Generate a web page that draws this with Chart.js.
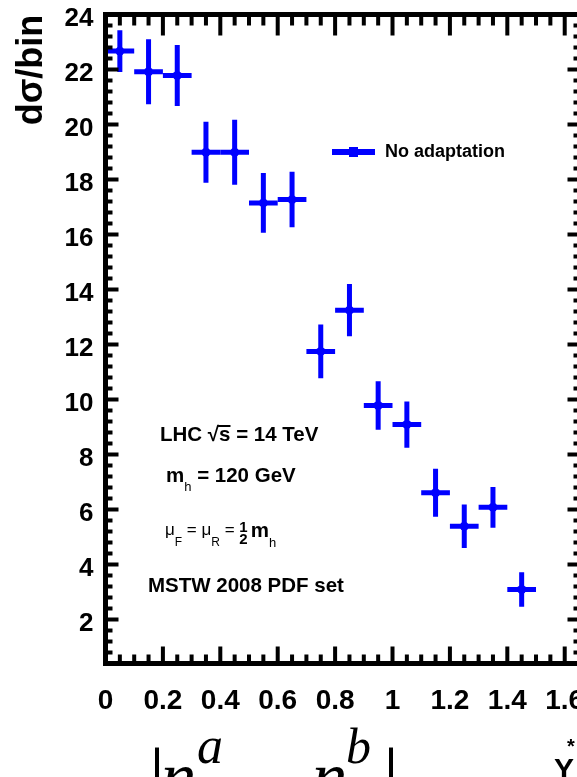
<!DOCTYPE html>
<html>
<head>
<meta charset="utf-8">
<title>d&sigma;/bin vs |&eta;a - &eta;b|</title>
<script src="https://cdn.jsdelivr.net/npm/chart.js@4.4.0/dist/chart.umd.min.js"></script>
<style>
  html, body { margin: 0; padding: 0; background: #fff; overflow: hidden; }
  #wrap { width: 600px; height: 777px; }
</style>
</head>
<body>
<div id="wrap"><canvas id="myChart" width="600" height="777"></canvas></div>
<script>
// bins in |eta^a - eta^b|, 0.1 wide
var binCenters = [0.05, 0.15, 0.25, 0.35, 0.45, 0.55, 0.65, 0.75, 0.85, 0.95, 1.05, 1.15, 1.25, 1.35, 1.45];
var binHalfWidth = 0.05;
// dsigma/bin and its error, "No adaptation" run
var noAdaptation    = [22.67, 21.92, 21.78, 18.99, 18.99, 17.15, 17.27, 11.75, 13.25, 9.78, 9.09, 6.61, 5.39, 6.08, 3.09];
var noAdaptationErr = [0.76, 1.18, 1.11, 1.11, 1.18, 1.09, 1.01, 0.98, 0.95, 0.88, 0.84, 0.87, 0.79, 0.74, 0.63];
var xTickLabels = [0, 0.2, 0.4, 0.6, 0.8, 1, 1.2, 1.4, 1.6];
var yTickLabels = [2, 4, 6, 8, 10, 12, 14, 16, 18, 20, 22, 24];

var blue = '#0000ff';
var sans = '"Liberation Sans", Arial, Helvetica, sans-serif';
var serif = '"Liberation Serif", "DejaVu Serif", serif';

// draws a list of text pieces one after another starting at x
function drawRuns(ctx, runs, x, y) {
  for (var i = 0; i < runs.length; i++) {
    var r = runs[i];
    if (r.frac) {
      ctx.font = r.font;
      var fw = Math.max(ctx.measureText(r.top).width, ctx.measureText(r.bottom).width);
      ctx.textAlign = 'center';
      ctx.fillText(r.top, x + fw / 2, y + r.dyTop);
      ctx.fillText(r.bottom, x + fw / 2, y + r.dyBottom);
      ctx.textAlign = 'left';
      x += fw + 3;
      continue;
    }
    ctx.font = r.font;
    ctx.fillText(r.text, x, y + (r.dy || 0));
    var w = ctx.measureText(r.text).width;
    if (r.over) {
      ctx.fillRect(x - 1, y - r.over, w + 1, 2);
    }
    x += w;
  }
}

var errorBars = {
  id: 'errorBars',
  beforeDatasetsDraw: function(chart) {
    var ctx = chart.ctx;
    var xs = chart.scales.x, ys = chart.scales.y;
    ctx.save();
    ctx.strokeStyle = blue;
    ctx.lineWidth = 5;
    ctx.lineCap = 'butt';
    for (var i = 0; i < binCenters.length; i++) {
      var px = xs.getPixelForValue(binCenters[i]);
      var py = ys.getPixelForValue(noAdaptation[i]);
      ctx.beginPath();
      ctx.moveTo(xs.getPixelForValue(binCenters[i] - binHalfWidth), py);
      ctx.lineTo(xs.getPixelForValue(binCenters[i] + binHalfWidth), py);
      ctx.moveTo(px, ys.getPixelForValue(noAdaptation[i] - noAdaptationErr[i]));
      ctx.lineTo(px, ys.getPixelForValue(noAdaptation[i] + noAdaptationErr[i]));
      ctx.stroke();
    }
    ctx.restore();
  }
};

var frame = {
  id: 'frame',
  afterDraw: function(chart) {
    var ctx = chart.ctx;
    var a = chart.chartArea;
    var xs = chart.scales.x, ys = chart.scales.y;
    ctx.save();
    ctx.fillStyle = '#000';
    // x ticks, minor every 0.05, major every 0.2
    for (var k = 1; k <= 33; k++) {
      var major = k % 4 === 0;
      var px = xs.getPixelForValue(k * 0.05);
      var up = major ? 17 : 9;
      var down = major ? 21 : 11;
      ctx.fillRect(px - 2, a.bottom - up, 4, up);
      ctx.fillRect(px - 2, a.top, 4, down);
    }
    // y ticks, minor every 0.4, major every 2
    for (var k = 2; k <= 60; k++) {
      var v = k * 0.4;
      if (v > 24.01) break;
      var major = k % 5 === 0;
      var py = ys.getPixelForValue(v);
      var len = major ? 13 : 7;
      ctx.fillRect(a.left, py - 2, len, 4);
      ctx.fillRect(a.right - len, py - 2, len, 4);
    }
    ctx.strokeStyle = '#000';
    ctx.lineWidth = 5;
    ctx.strokeRect(a.left, a.top, a.right - a.left, a.bottom - a.top);

    // y axis title
    ctx.save();
    ctx.translate(42, 70);
    ctx.rotate(-Math.PI / 2);
    ctx.font = 'bold 36px ' + sans;
    ctx.textAlign = 'center';
    ctx.textBaseline = 'alphabetic';
    ctx.fillText('d\u03c3/bin', 0, 0);
    ctx.restore();

    // legend
    ctx.fillStyle = blue;
    ctx.fillRect(332, 149, 43, 6);
    ctx.fillRect(349, 147, 9, 10);
    ctx.fillStyle = '#000';
    ctx.font = 'bold 18px ' + sans;
    ctx.textAlign = 'left';
    ctx.textBaseline = 'alphabetic';
    ctx.fillText('No adaptation', 385, 157);

    // run conditions
    var b20 = 'bold 20.5px ' + sans;
    drawRuns(ctx, [
      { text: 'LHC ', font: b20 },
      { text: '\u221a', font: b20 },
      { text: 's', font: b20, over: 16 },
      { text: ' = 14 TeV', font: b20 }
    ], 160, 441);
    drawRuns(ctx, [
      { text: 'm', font: b20 },
      { text: 'h', font: '13px ' + sans, dy: 9 },
      { text: ' = 120 GeV', font: b20 }
    ], 166, 482);
    drawRuns(ctx, [
      { text: '\u03bc', font: '17px ' + sans },
      { text: 'F', font: '12px ' + sans, dy: 11 },
      { text: ' = ', font: '17px ' + sans },
      { text: '\u03bc', font: '17px ' + sans },
      { text: 'R', font: '12px ' + sans, dy: 11 },
      { text: ' = ', font: '17px ' + sans },
      { frac: true, top: '1', bottom: '2', font: 'bold 15px ' + sans, dyTop: -3, dyBottom: 9 },
      { text: 'm', font: b20, dy: 2 },
      { text: 'h', font: '13px ' + sans, dy: 12 }
    ], 165, 535);
    ctx.font = b20;
    ctx.fillText('MSTW 2008 PDF set', 148, 592);

    // x axis title, mostly below the visible area
    ctx.font = '80px ' + serif;
    ctx.fillText('|', 149, 804);
    ctx.font = 'italic 70px ' + serif;
    ctx.fillText('\u03b7', 161, 800);
    ctx.font = 'italic 52px ' + serif;
    ctx.fillText('a', 197, 763);
    ctx.font = 'italic 70px ' + serif;
    ctx.fillText('\u03b7', 312, 800);
    ctx.font = 'italic 50px ' + serif;
    ctx.fillText('b', 346, 763);
    ctx.font = '80px ' + serif;
    ctx.fillText('|', 383, 804);
    ctx.font = 'bold 30px ' + sans;
    ctx.fillText('Y', 554, 779);
    ctx.font = 'bold 20px ' + sans;
    ctx.fillText('*', 567, 753);
    ctx.restore();
  }
};

var points = [];
for (let i = 0; i < binCenters.length; i++) {
  points.push({ x: binCenters[i], y: noAdaptation[i] });
}

const config = {
  type: 'scatter',
  data: {
    datasets: [{
      label: 'No adaptation',
      data: points,
      backgroundColor: blue,
      borderColor: blue,
      borderWidth: 0,
      pointRadius: 4.5,
      pointHoverRadius: 4.5
    }]
  },
  options: {
    responsive: false,
    animation: false,
    events: [],
    layout: { padding: { top: 14.5, right: 19.5, left: 0, bottom: 0 } },
    plugins: { legend: { display: false }, tooltip: { enabled: false } },
    scales: {
      x: {
        type: 'linear',
        min: 0,
        max: 1.655,
        grid: { display: false, drawTicks: false },
        border: { display: false },
        afterBuildTicks: function(s) { s.ticks = xTickLabels.map(function(v) { return { value: v }; }); },
        afterFit: function(s) {
          s.height = 113.5;
          s.paddingLeft = 0;
          s.paddingRight = 0;
        },
        ticks: {
          autoSkip: false,
          maxRotation: 0,
          padding: 21,
          color: '#000',
          font: { family: sans, size: 28, weight: 'bold' },
          callback: function(v) { return String(v); }
        }
      },
      y: {
        type: 'linear',
        min: 0.4,
        max: 24,
        grid: { display: false, drawTicks: false },
        border: { display: false },
        afterBuildTicks: function(s) { s.ticks = yTickLabels.map(function(v) { return { value: v }; }); },
        afterFit: function(s) {
          s.width = 105.5;
          s.paddingTop = 0;
          s.paddingBottom = 0;
        },
        ticks: {
          autoSkip: false,
          padding: 12,
          labelOffset: 4.5,
          color: '#000',
          font: { family: sans, size: 26, weight: 'bold' },
          callback: function(v) { return String(v); }
        }
      }
    }
  },
  plugins: [errorBars, frame]
};

const myChart = new Chart(document.getElementById('myChart'), config);
</script>
</body>
</html>
